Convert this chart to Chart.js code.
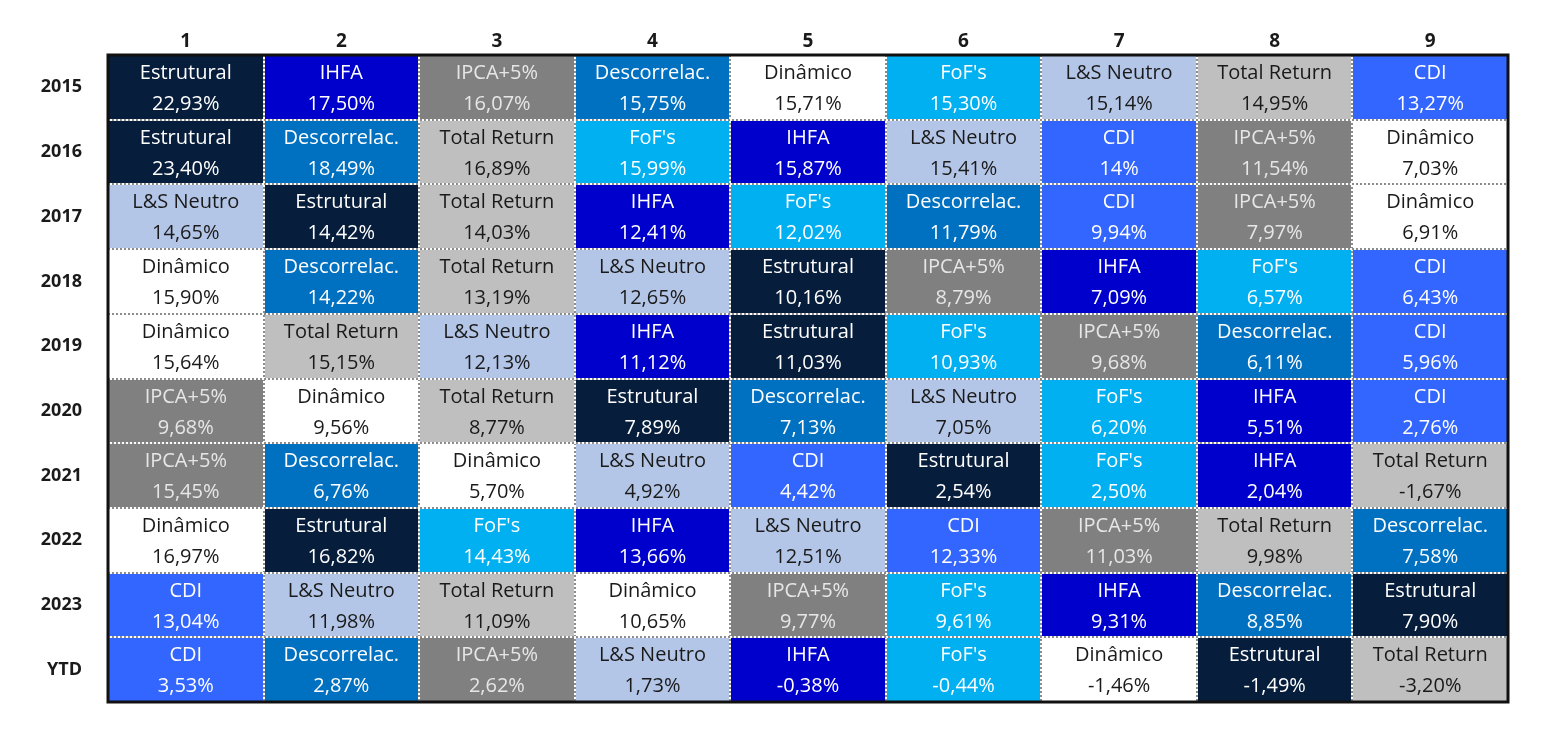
<!DOCTYPE html>
<html>
<head>
<meta charset="utf-8">
<script src="https://cdn.jsdelivr.net/npm/chart.js@4.4.1/dist/chart.umd.min.js"></script>
<style>
  html, body { margin: 0; padding: 0; background: #ffffff; }
  #wrap { width: 1542px; height: 742px; }
</style>
</head>
<body>
<div id="wrap"><canvas id="grafico" width="1542" height="742"></canvas></div>
<script>
// dados
const anos = ["2015", "2016", "2017", "2018", "2019", "2020", "2021", "2022", "2023", "YTD"];
const posicoes = ["1", "2", "3", "4", "5", "6", "7", "8", "9"];

const nomes = [
    ["Estrutural", "IHFA", "IPCA+5%", "Descorrelac.", "Dinâmico", "FoF's", "L&S Neutro", "Total Return", "CDI"],
    ["Estrutural", "Descorrelac.", "Total Return", "FoF's", "IHFA", "L&S Neutro", "CDI", "IPCA+5%", "Dinâmico"],
    ["L&S Neutro", "Estrutural", "Total Return", "IHFA", "FoF's", "Descorrelac.", "CDI", "IPCA+5%", "Dinâmico"],
    ["Dinâmico", "Descorrelac.", "Total Return", "L&S Neutro", "Estrutural", "IPCA+5%", "IHFA", "FoF's", "CDI"],
    ["Dinâmico", "Total Return", "L&S Neutro", "IHFA", "Estrutural", "FoF's", "IPCA+5%", "Descorrelac.", "CDI"],
    ["IPCA+5%", "Dinâmico", "Total Return", "Estrutural", "Descorrelac.", "L&S Neutro", "FoF's", "IHFA", "CDI"],
    ["IPCA+5%", "Descorrelac.", "Dinâmico", "L&S Neutro", "CDI", "Estrutural", "FoF's", "IHFA", "Total Return"],
    ["Dinâmico", "Estrutural", "FoF's", "IHFA", "L&S Neutro", "CDI", "IPCA+5%", "Total Return", "Descorrelac."],
    ["CDI", "L&S Neutro", "Total Return", "Dinâmico", "IPCA+5%", "FoF's", "IHFA", "Descorrelac.", "Estrutural"],
    ["CDI", "Descorrelac.", "IPCA+5%", "L&S Neutro", "IHFA", "FoF's", "Dinâmico", "Estrutural", "Total Return"]
];

const retornos = [
    [22.93, 17.50, 16.07, 15.75, 15.71, 15.30, 15.14, 14.95, 13.27],
    [23.40, 18.49, 16.89, 15.99, 15.87, 15.41, 14, 11.54, 7.03],
    [14.65, 14.42, 14.03, 12.41, 12.02, 11.79, 9.94, 7.97, 6.91],
    [15.90, 14.22, 13.19, 12.65, 10.16, 8.79, 7.09, 6.57, 6.43],
    [15.64, 15.15, 12.13, 11.12, 11.03, 10.93, 9.68, 6.11, 5.96],
    [9.68, 9.56, 8.77, 7.89, 7.13, 7.05, 6.20, 5.51, 2.76],
    [15.45, 6.76, 5.70, 4.92, 4.42, 2.54, 2.50, 2.04, -1.67],
    [16.97, 16.82, 14.43, 13.66, 12.51, 12.33, 11.03, 9.98, 7.58],
    [13.04, 11.98, 11.09, 10.65, 9.77, 9.61, 9.31, 8.85, 7.90],
    [3.53, 2.87, 2.62, 1.73, -0.38, -0.44, -1.46, -1.49, -3.20]
];

// cores de cada estrategia
const cores = {
    "Estrutural": "#061d3b",
    "IHFA": "#0000cc",
    "IPCA+5%": "#808080",
    "Descorrelac.": "#0070c0",
    "Dinâmico": "#ffffff",
    "FoF's": "#00b0f0",
    "L&S Neutro": "#b4c6e7",
    "Total Return": "#bfbfbf",
    "CDI": "#3366ff"
};
const corTexto = {
    "Dinâmico": "#1a1a1a",
    "L&S Neutro": "#1a1a1a",
    "Total Return": "#1a1a1a",
    "IPCA+5%": "#e6e6e6"
};

function formata(v) {
    if (Number.isInteger(v)) return v + "%";
    return v.toFixed(2).replace(".", ",") + "%";
}

const fonte = "'Open Sans', Lato, sans-serif";

const datasets = posicoes.map((p, j) => ({
    label: p,
    data: anos.map(() => [j, j + 1]),
    backgroundColor: anos.map((a, i) => cores[nomes[i][j]]),
    borderWidth: 0,
    barPercentage: 1,
    categoryPercentage: 1,
    xAxisID: "x"
}));

// linhas pontilhadas, moldura e textos das celulas
const celulas = {
    id: "celulas",
    afterDatasetsDraw(c) {
        const ctx = c.ctx;
        const area = c.chartArea;
        const xs = c.scales.x;
        const ys = c.scales.y;
        ctx.save();

        const linhas = [];
        for (let j = 1; j < posicoes.length; j++) {
            const px = Math.round(xs.getPixelForValue(j));
            linhas.push([px, area.top, px, area.bottom]);
        }
        for (let i = 1; i < anos.length; i++) {
            const py = Math.round((ys.getPixelForValue(i - 1) + ys.getPixelForValue(i)) / 2);
            linhas.push([area.left, py, area.right, py]);
        }
        linhas.forEach(l => {
            ctx.strokeStyle = "#ffffff";
            ctx.lineWidth = 2;
            ctx.setLineDash([]);
            ctx.beginPath(); ctx.moveTo(l[0], l[1]); ctx.lineTo(l[2], l[3]); ctx.stroke();
            ctx.strokeStyle = "#8c8c8c";
            ctx.setLineDash([2, 2]);
            ctx.beginPath(); ctx.moveTo(l[0], l[1]); ctx.lineTo(l[2], l[3]); ctx.stroke();
        });
        ctx.setLineDash([]);

        ctx.textAlign = "center";
        ctx.textBaseline = "middle";
        ctx.font = "20px " + fonte;
        c.data.datasets.forEach((ds, j) => {
            c.getDatasetMeta(j).data.forEach((el, i) => {
                const nome = nomes[i][j];
                const cx = (el.x + el.base) / 2;
                ctx.fillStyle = corTexto[nome] || "#ffffff";
                ctx.fillText(nome, cx, el.y - 14);
                ctx.fillText(formata(retornos[i][j]), cx, el.y + 17);
            });
        });

        ctx.strokeStyle = "#111111";
        ctx.lineWidth = 3;
        ctx.strokeRect(area.left, area.top, area.right - area.left, area.bottom - area.top);
        ctx.restore();
    }
};

const chart = new Chart(document.getElementById("grafico").getContext("2d"), {
    type: "bar",
    data: { labels: anos, datasets: datasets },
    options: {
        indexAxis: "y",
        responsive: false,
        animation: false,
        layout: { padding: { left: 12, right: 34, top: 0, bottom: 40 } },
        plugins: { legend: { display: false }, tooltip: { enabled: false } },
        datasets: { bar: { grouped: false } },
        scales: {
            x: { type: "linear", min: 0, max: 9, display: false },
            x2: {
                type: "category",
                labels: posicoes,
                position: "top",
                offset: true,
                grid: { display: false, drawTicks: false },
                border: { display: false },
                ticks: { color: "#1a1a1a", padding: 2, font: { family: fonte, size: 19, weight: "bold" } },
                afterFit(s) { s.height = 55; }
            },
            y: {
                type: "category",
                grid: { display: false, drawTicks: false },
                border: { display: false },
                ticks: { color: "#1a1a1a", padding: 26, font: { family: fonte, size: 18, weight: "bold" } },
                afterFit(s) { s.width = 96; }
            }
        }
    },
    plugins: [celulas]
});
</script>
</body>
</html>
